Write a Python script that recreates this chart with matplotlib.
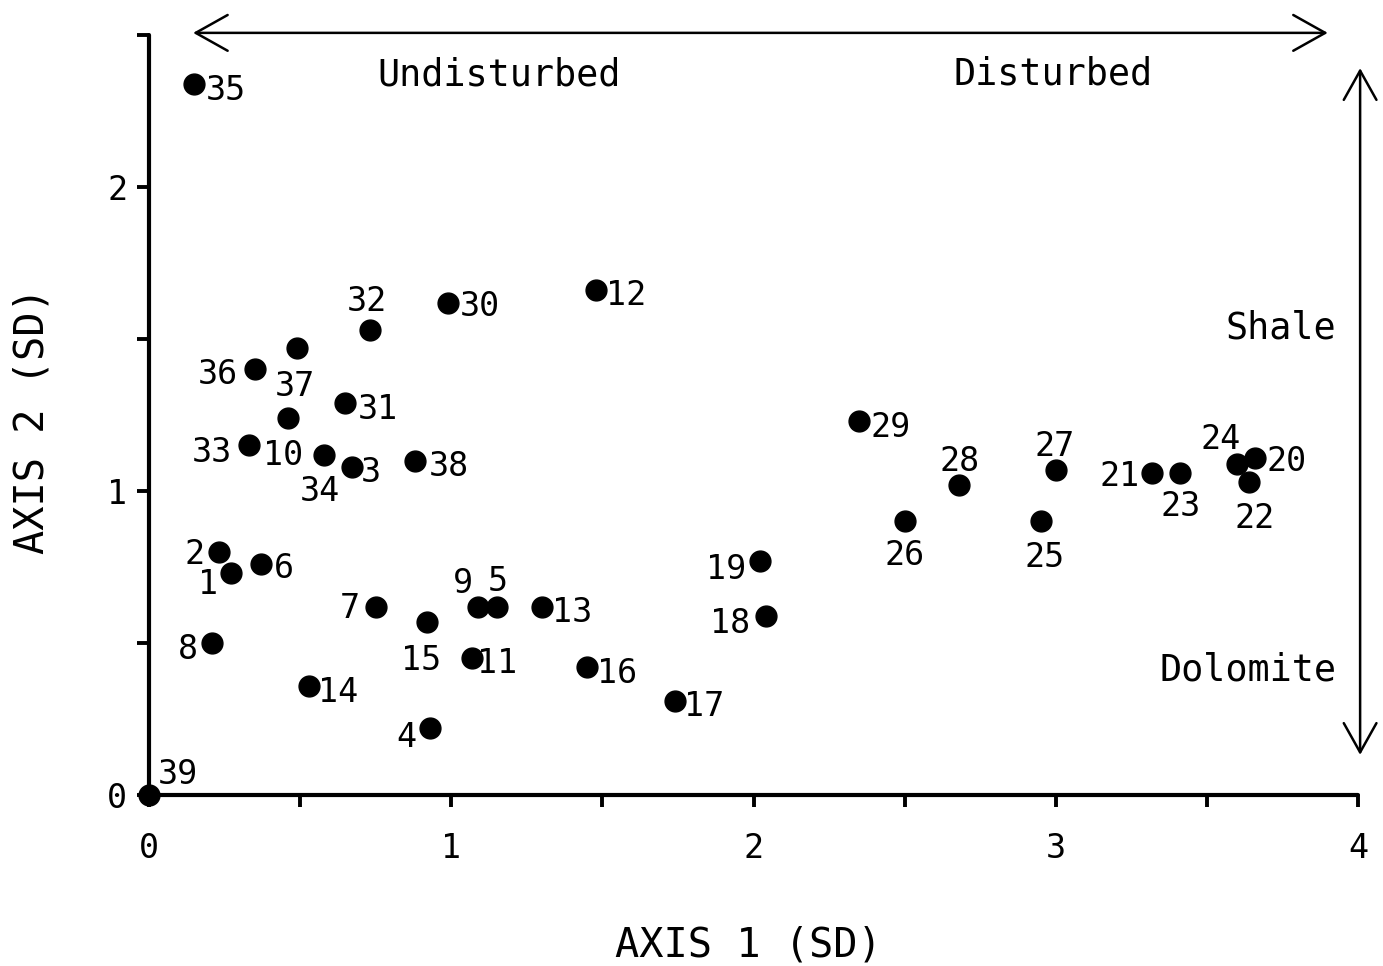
import matplotlib
matplotlib.use("Agg")
import matplotlib.pyplot as plt
from matplotlib.patches import ArrowStyle

# Site scores on the first two ordination axes (standard deviation units)
site_ids = list(range(1, 40))
axis1_scores = [0.27, 0.23, 0.67, 0.93, 1.15, 0.37, 0.75, 0.21, 1.09, 0.46,
                1.07, 1.48, 1.30, 0.53, 0.92, 1.45, 1.74, 2.04, 2.02, 3.66,
                3.32, 3.64, 3.41, 3.60, 2.95, 2.50, 3.00, 2.68, 2.35, 0.99,
                0.65, 0.73, 0.33, 0.58, 0.15, 0.35, 0.49, 0.88, 0.00]
axis2_scores = [0.73, 0.80, 1.08, 0.22, 0.62, 0.76, 0.62, 0.50, 0.62, 1.24,
                0.45, 1.66, 0.62, 0.36, 0.57, 0.42, 0.31, 0.59, 0.77, 1.11,
                1.06, 1.03, 1.06, 1.09, 0.90, 0.90, 1.07, 1.02, 1.23, 1.62,
                1.29, 1.53, 1.15, 1.12, 2.34, 1.40, 1.47, 1.10, 0.00]

x_ticks = [0, 0.5, 1, 1.5, 2, 2.5, 3, 3.5, 4]
x_tick_labels = ["0", "", "1", "", "2", "", "3", "", "4"]
y_ticks = [0, 0.5, 1, 1.5, 2, 2.5]
y_tick_labels = ["0", "", "1", "", "2", ""]

x_title = "AXIS 1 (SD)"
y_title = "AXIS 2 (SD)"
gradient_x = ("Undisturbed", "Disturbed")
gradient_y = ("Shale", "Dolomite")

# Placement of each site number relative to its dot (pixels: right, up)
label_offsets = {
    1: (-23, -8), 2: (-24, 1), 3: (19, -2), 4: (-24, -6), 5: (1, 29),
    6: (23, -1), 7: (-26, 2), 8: (-25, -3), 9: (-16, 27), 10: (-5, -34),
    11: (25, -2), 12: (30, -2), 13: (30, -2), 14: (29, -3), 15: (-6, -35),
    16: (30, -3), 17: (29, -2), 18: (-35, -4), 19: (-33, -5), 20: (31, 0),
    21: (-33, 0), 22: (5, -33), 23: (1, -30), 24: (-16, 28), 25: (4, -33),
    26: (0, -31), 27: (-1, 27), 28: (1, 27), 29: (31, -3), 30: (32, 0),
    31: (32, -3), 32: (-3, 32), 33: (-37, -4), 34: (-4, -33), 35: (32, -3),
    36: (-37, -2), 37: (-2, -35), 38: (34, -2), 39: (29, 24),
}

DPI = 100
PX = 72.0 / DPI  # points per pixel

plt.rcParams["font.family"] = ["DejaVu Sans Mono", "DejaVu Sans"]

fig = plt.figure(figsize=(13.83, 9.66), dpi=DPI)
ax = fig.add_axes([149 / 1383, 171 / 966, 1209 / 1383, 760 / 966])

ax.set_xlim(0, 4)
ax.set_ylim(0, 2.5)
for side in ("top", "right"):
    ax.spines[side].set_visible(False)
for side in ("left", "bottom"):
    ax.spines[side].set_linewidth(3.0)
    ax.spines[side].set_capstyle("round")

ax.set_xticks(x_ticks)
ax.set_xticklabels(x_tick_labels)
ax.set_yticks(y_ticks)
ax.set_yticklabels(y_tick_labels)
ax.tick_params(axis="both", direction="out", length=8.5, width=2.8,
               labelsize=24, color="black", labelcolor="black")
ax.tick_params(axis="x", pad=18)
ax.tick_params(axis="y", pad=7)

ax.plot(axis1_scores, axis2_scores, linestyle="none", marker="o",
        markersize=15, color="black", clip_on=False, zorder=3)

for sid, x, y in zip(site_ids, axis1_scores, axis2_scores):
    dx, dy = label_offsets[sid]
    ax.annotate(str(sid), xy=(x, y), xytext=(dx * PX, dy * PX),
                textcoords="offset points", ha="center",
                va="center_baseline", fontsize=24, annotation_clip=False)

ax.set_xlabel(x_title, fontsize=29)
ax.xaxis.set_label_coords(0.4955, -0.172)
ax.set_ylabel(y_title, fontsize=29)
ax.yaxis.set_label_coords(-0.080, 0.492)

# Gradient arrows along the top and right edges
arrow = ArrowStyle("<->", head_length=1.0, head_width=0.56)
ax.annotate("", xy=(3.90, 2.507), xytext=(0.146, 2.507),
            arrowprops=dict(arrowstyle=arrow, mutation_scale=23, lw=1.8,
                            color="black", shrinkA=0, shrinkB=0),
            annotation_clip=False)
ax.annotate("", xy=(4.007, 2.391), xytext=(4.007, 0.132),
            arrowprops=dict(arrowstyle=arrow, mutation_scale=21, lw=1.8,
                            color="black", shrinkA=0, shrinkB=0),
            annotation_clip=False)

ax.text(1.158, 2.382, gradient_x[0], fontsize=26.5, ha="center",
        va="center_baseline", clip_on=False)
ax.text(2.991, 2.385, gradient_x[1], fontsize=26.5, ha="center",
        va="center_baseline", clip_on=False)
ax.text(3.745, 1.550, gradient_y[0], fontsize=26.5, ha="center",
        va="center_baseline", clip_on=False)
ax.text(3.636, 0.425, gradient_y[1], fontsize=26.5, ha="center",
        va="center_baseline", clip_on=False)

fig.savefig("out.png", dpi=DPI, facecolor="white")
